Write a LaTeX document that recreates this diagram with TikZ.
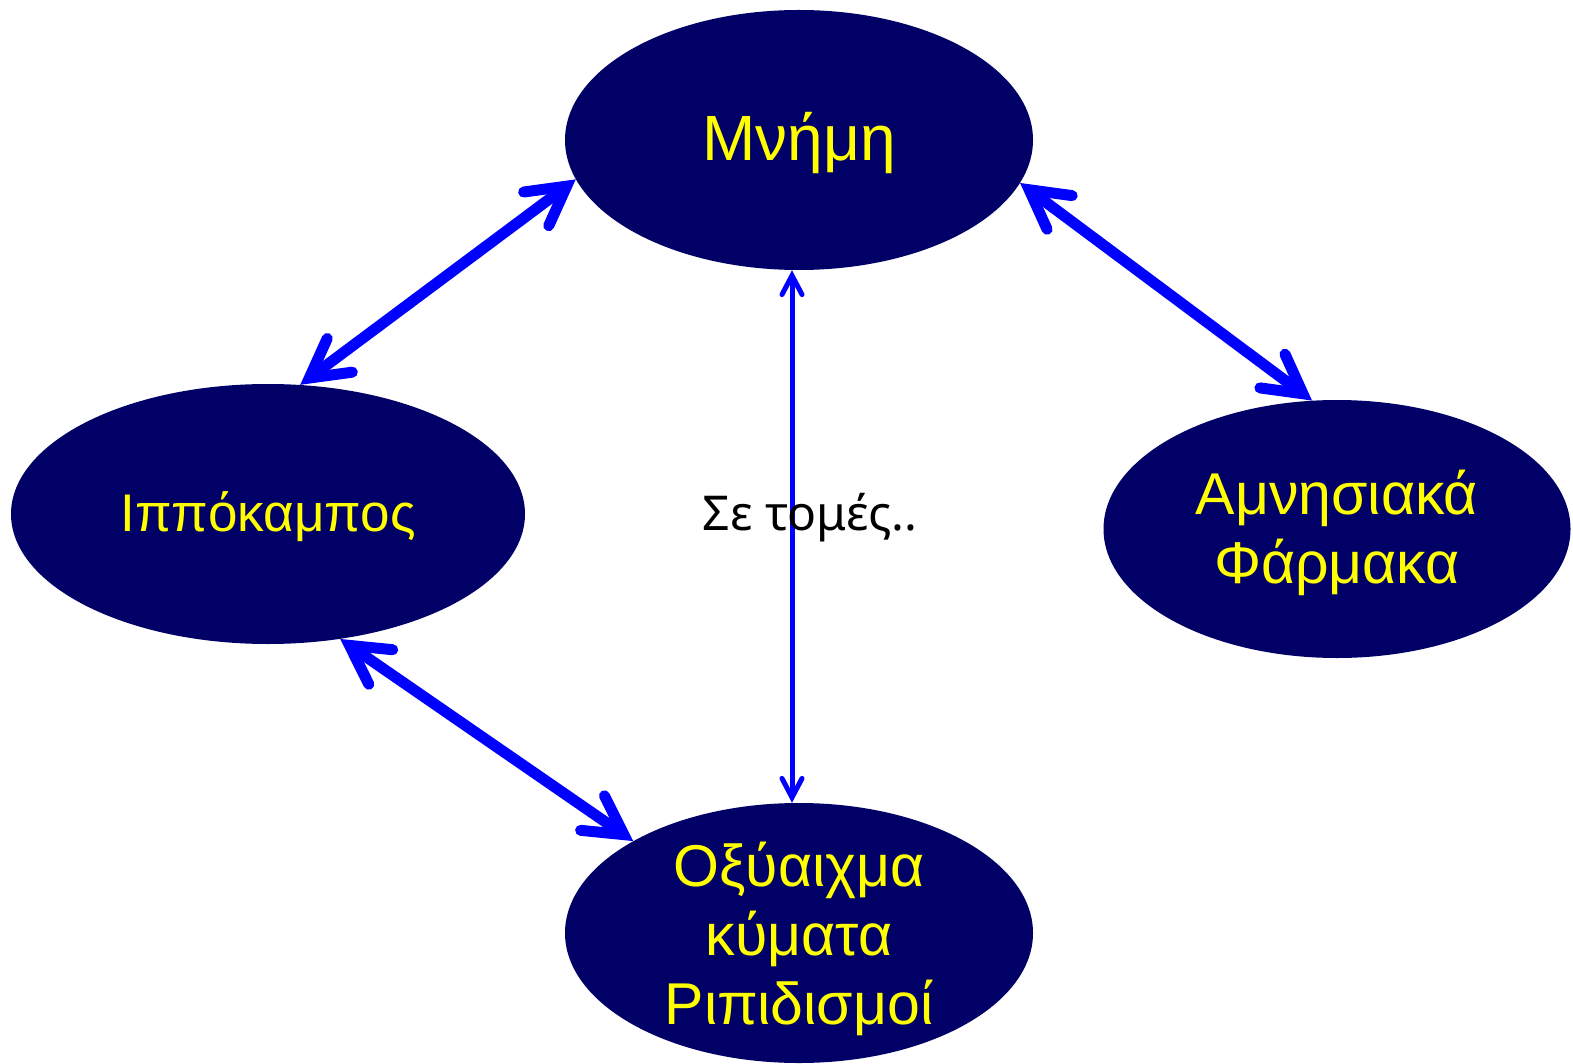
\documentclass[tikz,border=0pt]{standalone}
\usepackage{fontspec}
\setmainfont{Liberation Sans}
\newfontfamily\notefont{Noto Sans}
\usetikzlibrary{shapes.geometric,arrows.meta}
\definecolor{navy}{RGB}{0,0,102}
\definecolor{linkblue}{RGB}{0,0,255}
\definecolor{labelyellow}{RGB}{255,255,0}
\tikzset{
  topic/.style={ellipse, fill=navy, draw=none, inner sep=0pt,
    minimum width=468pt, minimum height=260pt},
  topictext/.style={text=labelyellow, align=center, inner sep=0pt,
    font=\fontsize{59}{69}\selectfont},
  biglink/.style={draw=linkblue, line width=11pt,
    {Straight Barb[length=38pt,width=42pt,line cap=round]}-{Straight Barb[length=38pt,width=42pt,line cap=round]}},
  thinlink/.style={draw=linkblue, line width=5pt,
    {Straight Barb[length=19pt,width=20pt,line cap=round]}-{Straight Barb[length=19pt,width=20pt,line cap=round]}}
}
\begin{document}
\begin{tikzpicture}[x=1pt,y=-1pt]
  \useasboundingbox (0,0) rectangle (1573,1064);
  % topic ellipses
  \node[topic] (m) at (799,140) {};
  \node[topic, minimum width=514pt] (i) at (268,514) {};
  \node[topic, minimum width=467pt, minimum height=258pt] (a) at (1337,529) {};
  \node[topic] (o) at (799,933) {};

  % topic labels
  \node[topictext, font=\fontsize{64}{72}\selectfont] (mt) at (799,143) {Μνήμη};
  \node[topictext, font=\fontsize{53}{62}\selectfont] (it) at (268,517) {Ιππόκαμπος};
  \node[topictext] (at) at (1337,533) {Αμνησιακά\\Φάρμακα};
  \node[topictext] (ot) at (799,939) {Οξύαιχμα\\κύματα\\Ριπιδισμοί};

  % links
  \draw[biglink] (m.190.3) -- (i.76.8);
  \draw[biglink] (m.349.6) -- (a.101.3);
  \draw[biglink] (i.300.8) -- (o.151);
  \draw[thinlink] ([xshift=-7pt]m.south) -- ([xshift=-7pt]o.north);

  \node[font=\notefont\fontsize{48}{54}\selectfont] (n) at (810,518) {Σε τομές..};
\end{tikzpicture}
\end{document}
